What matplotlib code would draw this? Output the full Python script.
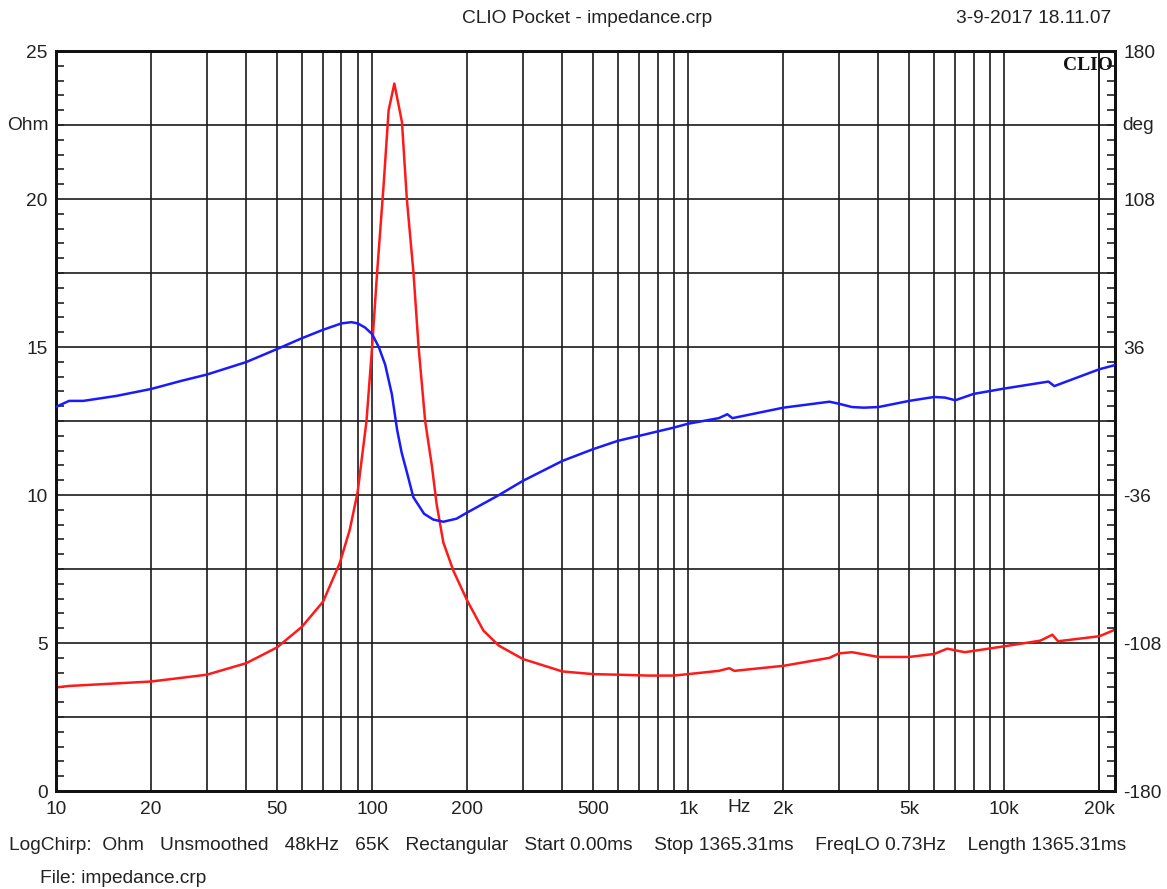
import numpy as np
import matplotlib.pyplot as plt
from matplotlib.ticker import FixedLocator, MultipleLocator, NullFormatter

plt.rcParams['font.family'] = ['Liberation Sans', 'DejaVu Sans']
plt.rcParams['axes.unicode_minus'] = False

# impedance magnitude (Ohm)
freq_z = [10, 11, 20, 30, 40, 50, 60, 70, 79, 85, 90, 96, 100, 103.7, 108.8, 112.8,
          117.6, 124.3, 128.8, 135.2, 140.3, 147.2, 154.5, 160, 168, 181, 200, 225,
          252, 300, 400, 500, 600, 750, 900, 1000, 1250, 1350, 1400, 2000, 2800, 3000,
          3300, 4000, 5000, 6000, 6600, 7500, 10000, 13000, 14200, 14800, 20000, 22400]
ohm = [3.5, 3.55, 3.7, 3.93, 4.32, 4.85, 5.55, 6.4, 7.7, 8.83, 10.1, 12.5, 15.0, 17.5,
       20.5, 23.0, 23.9, 22.6, 20.0, 17.5, 15.0, 12.5, 11.0, 9.7, 8.4, 7.43, 6.43, 5.42,
       4.91, 4.46, 4.04, 3.95, 3.93, 3.9, 3.9, 3.95, 4.06, 4.15, 4.06, 4.23, 4.5, 4.65,
       4.69, 4.53, 4.53, 4.63, 4.81, 4.69, 4.89, 5.08, 5.28, 5.06, 5.23, 5.45]

# impedance phase (deg)
freq_p = [10, 11, 12.2, 15.5, 20, 25, 30, 40, 50, 60, 70, 80, 86, 90, 95, 100, 105,
          110, 115.5, 120, 124, 129, 135, 146, 156, 168, 185, 200, 250, 300, 400, 500,
          600, 700, 900, 1000, 1250, 1330, 1380, 2000, 2800, 3000, 3300, 3600, 4000,
          5000, 6000, 6500, 7000, 8000, 10000, 13800, 14400, 20000, 22400]
deg = [6.9, 9.8, 9.8, 12.2, 15.6, 19.6, 22.6, 28.7, 35.0, 40.3, 44.4, 47.5, 48.1, 47.5,
       45.5, 42.3, 36.0, 27.4, 13.0, -4.3, -15.3, -25.2, -37.0, -45.1, -47.9, -49.0,
       -47.5, -44.5, -36.3, -29.1, -19.4, -13.7, -9.6, -7.2, -3.2, -1.3, 1.4, 3.3, 1.4,
       6.5, 9.4, 8.4, 6.8, 6.5, 6.8, 9.8, 11.7, 11.4, 10.1, 13.2, 15.8, 19.2, 17.0,
       25.2, 27.2]

x_ticks = [10, 20, 50, 100, 200, 500, 1000, 2000, 5000, 10000, 20000]
x_labels = ['10', '20', '50', '100', '200', '500', '1k', '2k', '5k', '10k', '20k']
ohm_ticks = [0, 5, 10, 15, 20, 25]
deg_ticks = [-180, -108, -36, 36, 108, 180]

FS = 13.8
TXT = '#222222'

fig = plt.figure(figsize=(11.67, 8.89), dpi=100)
ax = fig.add_axes([0.048, 0.1102, 0.9074, 0.8324])
ax2 = ax.twinx()

ax.set_xscale('log')
ax.set_xlim(10, 22400)
ax.set_ylim(0, 25)
ax2.set_ylim(-180, 180)

# full log grid: every 1..9 step in each decade
grid_x = [m * 10 ** e for e in range(1, 5) for m in range(1, 10)] + [20000]
ax.xaxis.set_major_locator(FixedLocator(x_ticks))
ax.xaxis.set_minor_locator(FixedLocator(grid_x))
ax.xaxis.set_minor_formatter(NullFormatter())
ax.set_xticklabels(x_labels)
for x in grid_x:
    if 10 < x < 22400:
        ax.axvline(x, color='#1a1a1a', lw=1.2, zorder=1)
for y in np.arange(2.5, 25, 2.5):
    ax.axhline(y, color='#1a1a1a', lw=1.2, zorder=1)

ax.set_yticks(ohm_ticks)
ax.yaxis.set_minor_locator(MultipleLocator(0.5))
ax2.set_yticks(deg_ticks)
ax2.yaxis.set_minor_locator(MultipleLocator(7.2))

ax.tick_params(axis='x', which='both', length=0, labelsize=FS, pad=7, colors=TXT)
ax.tick_params(axis='y', which='major', length=0, labelsize=FS, pad=6, colors=TXT)
ax.tick_params(axis='y', which='minor', direction='in', length=6, width=1.2, color=TXT)
ax2.tick_params(axis='y', which='major', length=0, labelsize=FS, pad=6, colors=TXT)
ax2.tick_params(axis='y', which='minor', direction='in', length=6, width=1.2, color=TXT)

for a in (ax, ax2):
    for s in a.spines.values():
        s.set_linewidth(2)
        s.set_color('#111111')

ax.plot(freq_z, ohm, color='#ff1a1a', lw=1.8, zorder=3)
ax2.plot(freq_p, deg, color='#1a1aff', lw=1.8, zorder=3)

ax.text(-0.007, 22.5, 'Ohm', transform=ax.get_yaxis_transform(), ha='right', va='center',
        fontsize=FS, color=TXT)
ax2.text(1.007, 144, 'deg', transform=ax2.get_yaxis_transform(), ha='left', va='center',
         fontsize=FS, color=TXT)
ax.text(0.998, 0.992, 'CLIO', transform=ax.transAxes, ha='right', va='top',
        fontsize=14, fontweight='bold', family='Liberation Serif', color='#111111')
ax.text(0.645, -0.011, 'Hz', transform=ax.transAxes, ha='center', va='top',
        fontsize=FS, color=TXT)

fig.text(0.503, 0.979, 'CLIO Pocket - impedance.crp', ha='center', va='center',
         fontsize=FS, color=TXT)
fig.text(0.952, 0.979, '3-9-2017 18.11.07', ha='right', va='center',
         fontsize=FS, color=TXT)
fig.text(0.008, 0.049, 'LogChirp:  Ohm   Unsmoothed   48kHz   65K   Rectangular   '
         'Start 0.00ms    Stop 1365.31ms    FreqLO 0.73Hz    Length 1365.31ms',
         ha='left', va='center', fontsize=FS, color=TXT)
fig.text(0.034, 0.012, 'File: impedance.crp', ha='left', va='center',
         fontsize=FS, color=TXT)

fig.savefig('out.png', dpi=100, facecolor='white')
